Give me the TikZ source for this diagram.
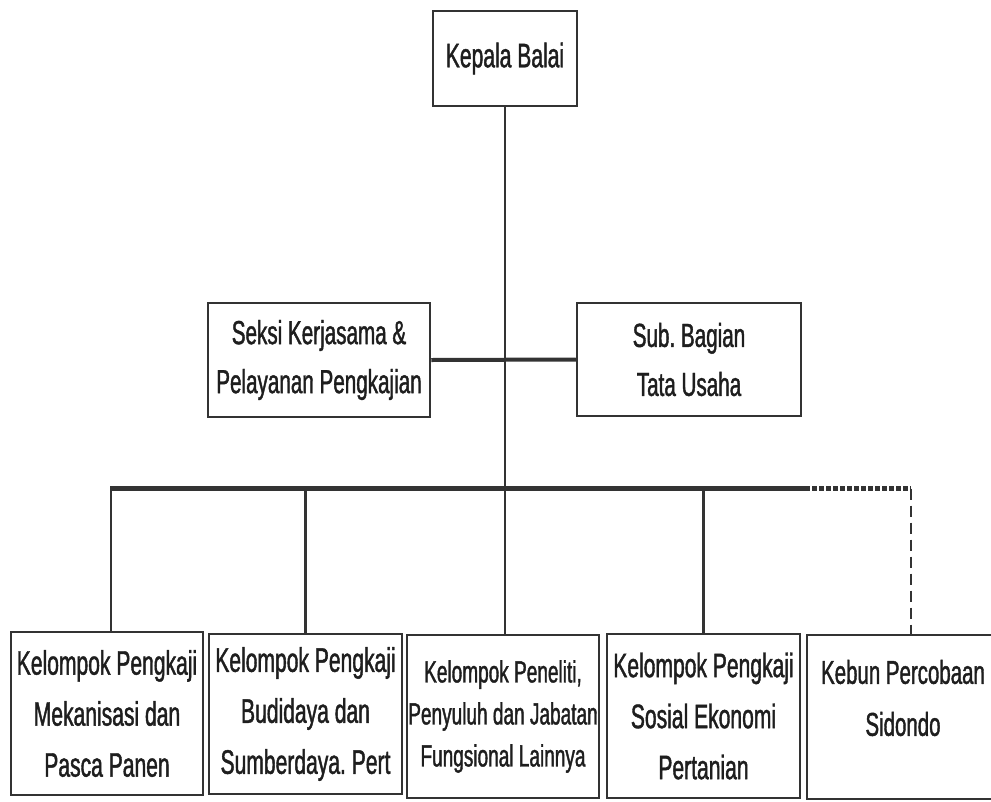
\documentclass[tikz,border=0pt]{standalone}
\usepackage{fontspec}
\setmainfont[FakeStretch=0.62,FakeBold=1.2]{Liberation Sans}
\frenchspacing
\definecolor{linec}{HTML}{333333}
\definecolor{textc}{HTML}{1E1E1E}
\begin{document}
\begin{tikzpicture}[x=1pt,y=-1pt,
  orgbox/.style={draw=linec, line width=2.5pt, fill=white, align=center, inner sep=0pt,
    text=textc, font=\fontsize{34}{51}\selectfont},
  conn/.style={draw=linec, line width=2.2pt},
  midconn/.style={draw=linec, line width=4pt},
  bus/.style={draw=linec, line width=5.5pt},
  busdot/.style={draw=linec, line width=5.5pt, dash pattern=on 4.5pt off 2.5pt},
  dashconn/.style={draw=linec, line width=2.2pt, dash pattern=on 11pt off 6pt}]
\useasboundingbox (0,0) rectangle (991,801);
% boxes
\node[orgbox, minimum width=144pt, minimum height=95pt, font=\fontsize{34}{50}\selectfont] (kb) at (505,58.5) {Kepala Balai};
\node[orgbox, minimum width=222pt, minimum height=114pt, font=\fontsize{33.3}{49}\selectfont] (seksi) at (319,360) {Seksi Kerjasama \&\\Pelayanan Pengkajian};
\node[orgbox, minimum width=224pt, minimum height=113pt, font=\fontsize{33.3}{49}\selectfont] (sub) at (689,359.5) {Sub. Bagian\\Tata Usaha};
\node[orgbox, minimum width=192pt, minimum height=163pt] (b1) at (107,713.5) {Kelompok Pengkaji\\Mekanisasi dan\\Pasca Panen};
\node[orgbox, minimum width=193pt, minimum height=160pt] (b2) at (305.5,714) {Kelompok Pengkaji\\Budidaya dan\\Sumberdaya. Pert};
\node[orgbox, minimum width=192pt, minimum height=163pt, font=\fontsize{30.7}{42}\selectfont] (b3) at (503,716.5) {Kelompok Peneliti,\\Penyuluh dan Jabatan\\Fungsional Lainnya};
\node[orgbox, minimum width=193pt, minimum height=164pt] (b4) at (703.5,716) {Kelompok Pengkaji\\Sosial Ekonomi\\Pertanian};
\node[orgbox, minimum width=192pt, minimum height=164pt] (b5) at (903,717) {};
\node[align=center, text=textc, inner sep=0pt, font=\fontsize{33}{52}\selectfont] (b5t) at ([yshift=19pt]b5.center) {Kebun Percobaan\\Sidondo};
% connectors
\coordinate (busL) at (110,488.5);
\coordinate (busR) at (805,488.5);
\coordinate (busE) at (911,488.5);
\draw[conn] (kb.south) -- (kb.south |- b3.north);
\draw[midconn] (seksi.east) -- (sub.west);
\draw[conn] ([xshift=1pt]busL) -- ([xshift=1pt]busL |- b1.north);
\draw[conn] (b2.north |- busL) -- (b2.north);
\draw[conn] (b4.north |- busL) -- (b4.north);
\draw[dashconn] (busE) -- (busE |- b5.north);
\draw[bus] (busL) -- (busR);
\draw[busdot] (busR) -- (busE);
\end{tikzpicture}
\end{document}
